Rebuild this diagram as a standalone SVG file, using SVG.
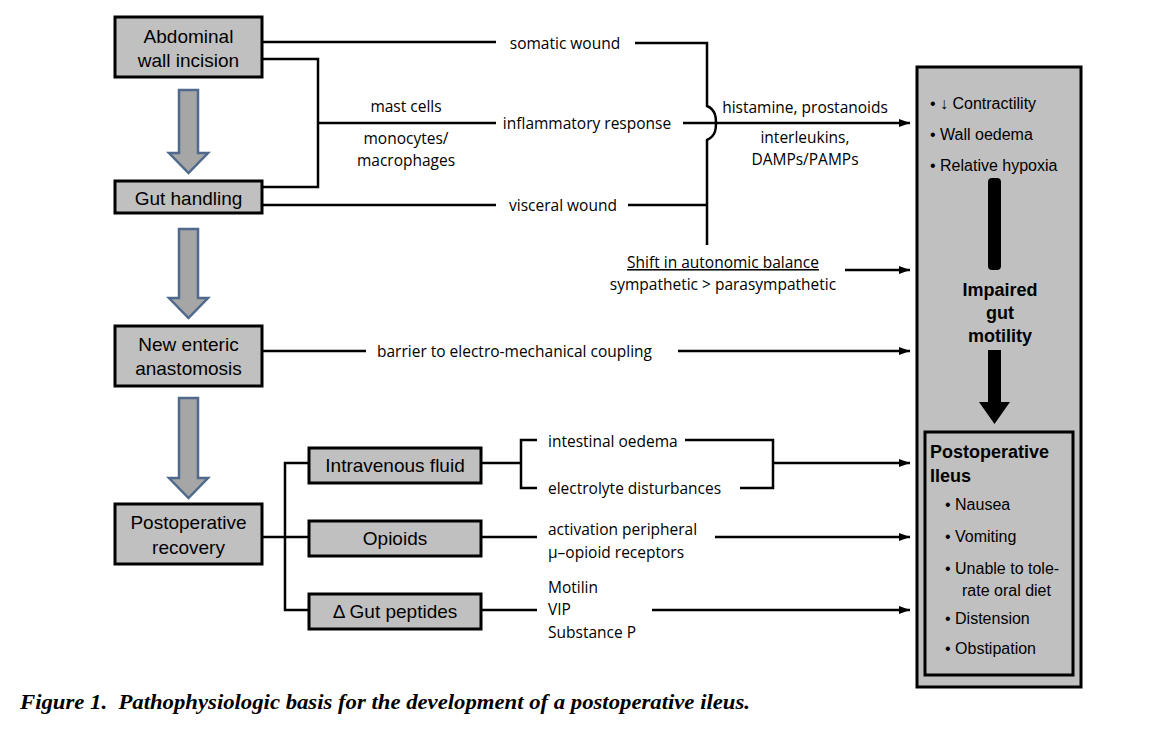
<svg xmlns="http://www.w3.org/2000/svg" width="1167" height="735" viewBox="0 0 1167 735">
<defs>
<style>
.box{fill:#c0c0c0;stroke:#000;stroke-width:3}
.bt{font-family:"Liberation Sans",Arial,sans-serif;font-size:19px;fill:#000;text-anchor:middle}
.lb{font-family:"Open Sans","Noto Sans",sans-serif;font-size:15.5px;fill:#000}
.rt{font-family:"Liberation Sans",Arial,sans-serif;font-size:16px;fill:#000}
.rb{font-family:"Liberation Sans",Arial,sans-serif;font-size:18px;font-weight:bold;fill:#000}
.ln{fill:none;stroke:#000;stroke-width:2.5}
.blk{fill:#a6a6a6;stroke:#4f6a8c;stroke-width:2.5}
</style>
<marker id="ah" markerUnits="userSpaceOnUse" markerWidth="12" markerHeight="10" refX="11" refY="4" orient="auto">
<path d="M0,0 L11,4 L0,8 z" fill="#000"/>
</marker>
</defs>
<rect width="1167" height="735" fill="#fff"/>

<g id="connectors">
<path class="ln" d="M263,42 H496"/>
<path class="ln" d="M635,43 H707 V106 C716,110 716,118 716,123 C716,128 716,136 707,140 V245"/>
<path class="ln" d="M263,59 H318 V187 H263"/>
<path class="ln" d="M318,123 H496"/>
<path class="ln" d="M683,123 H910" marker-end="url(#ah)"/>
<path class="ln" d="M263,205 H496"/>
<path class="ln" d="M628,205 H707"/>
<path class="ln" d="M845,270 H910" marker-end="url(#ah)"/>
<path class="ln" d="M262,351 H366"/>
<path class="ln" d="M678,351 H910" marker-end="url(#ah)"/>
<path class="ln" d="M262,537 H309"/>
<path class="ln" d="M309,463 H285 V610 H309"/>
<path class="ln" d="M481,463 H521"/>
<path class="ln" d="M537,440 H521 V488 H537"/>
<path class="ln" d="M685,440 H773 V488 H740"/>
<path class="ln" d="M773,463 H910" marker-end="url(#ah)"/>
<path class="ln" d="M481,537 H537"/>
<path class="ln" d="M715,537 H910" marker-end="url(#ah)"/>
<path class="ln" d="M481,610 H537"/>
<path class="ln" d="M652,610 H910" marker-end="url(#ah)"/>
</g>

<g id="flow-arrows">
<polygon class="blk" points="179,90 198,90 198,153 208,153 188.5,173 169,153 179,153"/>
<polygon class="blk" points="179,229 198,229 198,298 208,298 188.5,318 169,298 179,298"/>
<polygon class="blk" points="179,398 198,398 198,478 208,478 188.5,498 169,478 179,478"/>
</g>

<g id="abdominal-wall-incision">
<rect class="box" x="115" y="17" width="147" height="60"/>
<text class="bt" x="188.5" y="43">Abdominal</text>
<text class="bt" x="188.5" y="67">wall incision</text>
</g>
<g id="gut-handling">
<rect class="box" x="115" y="181" width="147" height="32"/>
<text class="bt" x="188.5" y="205">Gut handling</text>
</g>
<g id="new-enteric-anastomosis">
<rect class="box" x="115" y="326" width="147" height="60"/>
<text class="bt" x="188.5" y="351">New enteric</text>
<text class="bt" x="188.5" y="375">anastomosis</text>
</g>
<g id="postoperative-recovery">
<rect class="box" x="115" y="504" width="147" height="60"/>
<text class="bt" x="188.5" y="529">Postoperative</text>
<text class="bt" x="188.5" y="554">recovery</text>
</g>
<g id="intravenous-fluid">
<rect class="box" x="309" y="448" width="172" height="35"/>
<text class="bt" x="395" y="472">Intravenous fluid</text>
</g>
<g id="opioids">
<rect class="box" x="309" y="521" width="172" height="35"/>
<text class="bt" x="395" y="545">Opioids</text>
</g>
<g id="gut-peptides">
<rect class="box" x="309" y="594" width="172" height="35"/>
<text class="bt" x="395" y="618">Δ Gut peptides</text>
</g>

<g id="labels">
<text class="lb" x="565" y="49" text-anchor="middle">somatic wound</text>
<text class="lb" x="406" y="112" text-anchor="middle">mast cells</text>
<text class="lb" text-anchor="middle"><tspan x="406" y="144">monocytes/</tspan><tspan x="406" y="166">macrophages</tspan></text>
<text class="lb" x="587" y="129" text-anchor="middle">inflammatory response</text>
<text class="lb" x="805" y="113" text-anchor="middle">histamine, prostanoids</text>
<text class="lb" text-anchor="middle"><tspan x="805" y="143">interleukins,</tspan><tspan x="805" y="165">DAMPs/PAMPs</tspan></text>
<text class="lb" x="563" y="211" text-anchor="middle">visceral wound</text>
<text class="lb" text-anchor="middle"><tspan x="723" y="268" text-decoration="underline">Shift in autonomic balance</tspan><tspan x="723" y="290">sympathetic &gt; parasympathetic</tspan></text>
<text class="lb" x="377" y="357">barrier to electro-mechanical coupling</text>
<text class="lb" x="548" y="447">intestinal oedema</text>
<text class="lb" x="548" y="494">electrolyte disturbances</text>
<text class="lb"><tspan x="548" y="535">activation peripheral</tspan><tspan x="548" y="558">μ–opioid receptors</tspan></text>
<text class="lb"><tspan x="548" y="593">Motilin</tspan><tspan x="548" y="615">VIP</tspan><tspan x="548" y="638">Substance P</tspan></text>
</g>

<g id="impaired-gut-motility">
<rect x="917" y="67" width="164" height="620" fill="#c0c0c0" stroke="#000" stroke-width="3"/>
<text class="rt" x="930" y="109">• ↓ Contractility</text>
<text class="rt" x="930" y="140">• Wall oedema</text>
<text class="rt" x="930" y="171">• Relative hypoxia</text>
<rect x="988" y="178" width="13" height="92" rx="4" fill="#000"/>
<text class="rb" text-anchor="middle"><tspan x="1000" y="296">Impaired</tspan><tspan x="1000" y="319">gut</tspan><tspan x="1000" y="342">motility</tspan></text>
<polygon points="988,350 1001,350 1001,402 1010,402 994.5,424 979,402 988,402" fill="#000"/>
</g>
<g id="postoperative-ileus">
<rect x="925" y="432" width="148" height="243" fill="#c0c0c0" stroke="#000" stroke-width="3"/>
<text class="rb"><tspan x="930" y="458">Postoperative</tspan><tspan x="930" y="482">Ileus</tspan></text>
<text class="rt" x="945" y="510">• Nausea</text>
<text class="rt" x="945" y="542">• Vomiting</text>
<text class="rt"><tspan x="945" y="574">• Unable to tole-</tspan><tspan x="962" y="596">rate oral diet</tspan></text>
<text class="rt" x="945" y="624">• Distension</text>
<text class="rt" x="945" y="654">• Obstipation</text>
</g>

<text x="20" y="709" xml:space="preserve" font-family="'Liberation Serif','Times New Roman',serif" font-size="21" font-weight="bold" font-style="italic" textLength="730" lengthAdjust="spacingAndGlyphs">Figure 1.  Pathophysiologic basis for the development of a postoperative ileus.</text>
</svg>
